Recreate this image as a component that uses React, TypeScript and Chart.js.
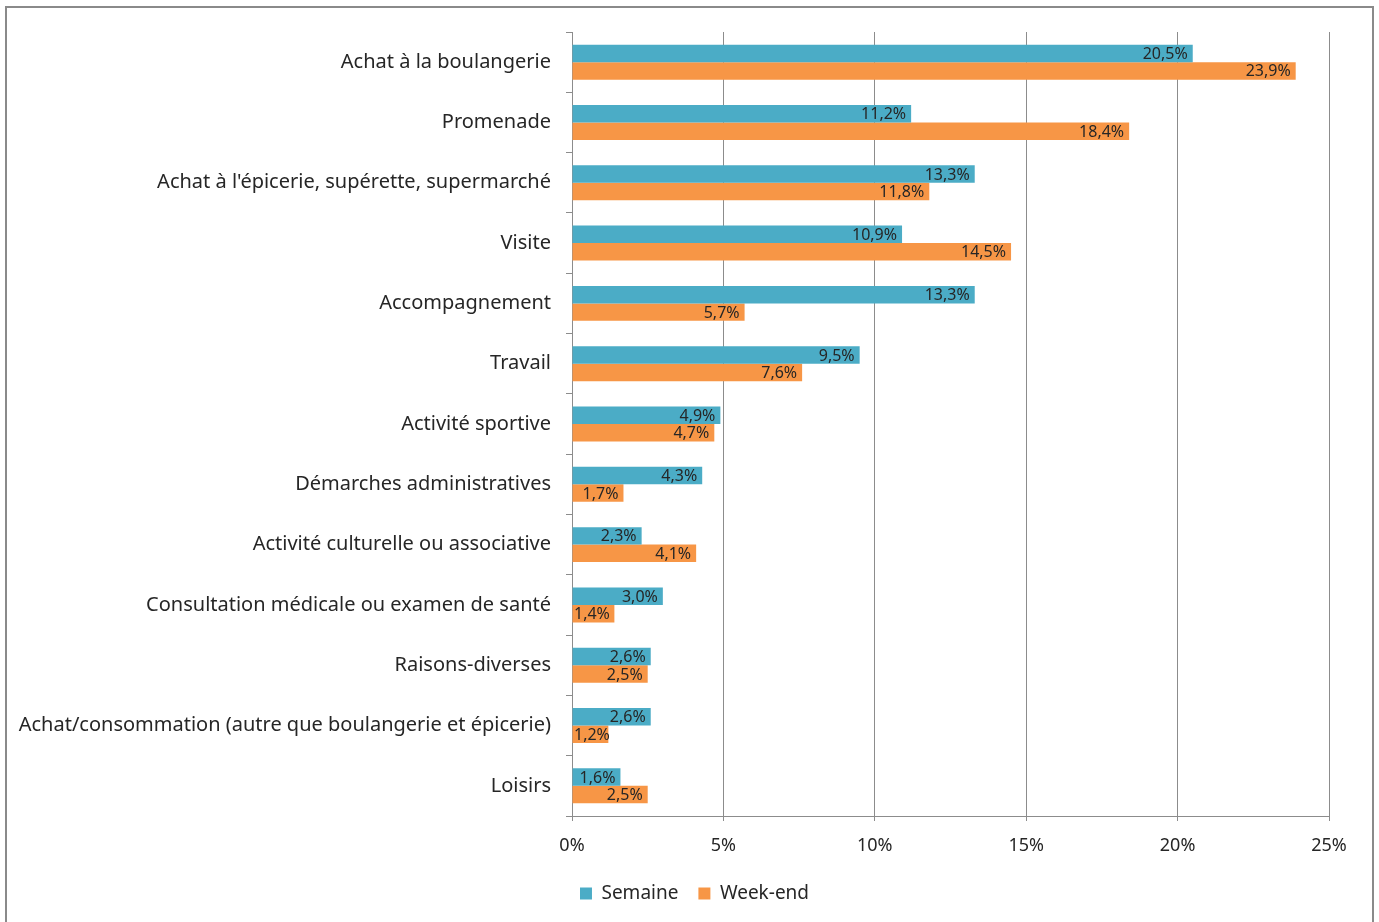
import React, { useEffect, useRef } from "react";
import { Chart, registerables } from "chart.js";

Chart.register(...registerables);

const categories = [
  "Achat à la boulangerie",
  "Promenade",
  "Achat à l'épicerie, supérette, supermarché",
  "Visite",
  "Accompagnement",
  "Travail",
  "Activité sportive",
  "Démarches administratives",
  "Activité culturelle ou associative",
  "Consultation médicale ou examen de santé",
  "Raisons-diverses",
  "Achat/consommation (autre que boulangerie et épicerie)",
  "Loisirs",
];

const semaine = [20.5, 11.2, 13.3, 10.9, 13.3, 9.5, 4.9, 4.3, 2.3, 3.0, 2.6, 2.6, 1.6];
const weekend = [23.9, 18.4, 11.8, 14.5, 5.7, 7.6, 4.7, 1.7, 4.1, 1.4, 2.5, 1.2, 2.5];

const xTicks = [0, 5, 10, 15, 20, 25];

const FONT = "'Noto Sans', 'Open Sans', sans-serif";
const TEXT = "#262626";
const GRID = "#8c8c8c";

const fmt = (v: number) => v.toFixed(1).replace(".", ",") + "%";

const valueLabels = {
  id: "valueLabels",
  afterDatasetsDraw(chart: any) {
    const ctx = chart.ctx;
    const left = chart.chartArea.left;
    ctx.save();
    ctx.font = `16px ${FONT}`;
    ctx.fillStyle = TEXT;
    ctx.textBaseline = "middle";
    ctx.textAlign = "left";
    chart.data.datasets.forEach((ds: any, di: number) => {
      const meta = chart.getDatasetMeta(di);
      meta.data.forEach((el: any, i: number) => {
        const txt = fmt(ds.data[i]);
        const w = ctx.measureText(txt).width;
        let x = el.x - 5 - w;
        if (x < left + 2) x = left + 2;
        ctx.fillText(txt, x, el.y + 1);
      });
    });
    ctx.restore();
  },
};

export default function App() {
  const ref = useRef<HTMLCanvasElement | null>(null);

  useEffect(() => {
    if (!ref.current) return;
    const chart = new Chart(ref.current, {
      type: "bar",
      data: {
        labels: categories,
        datasets: [
          {
            label: "Semaine",
            data: semaine,
            backgroundColor: "#4BACC6",
            categoryPercentage: 0.58,
            barPercentage: 1,
            yAxisID: "y",
          },
          {
            label: "Week-end",
            data: weekend,
            backgroundColor: "#F79646",
            categoryPercentage: 0.58,
            barPercentage: 1,
            yAxisID: "y",
          },
        ],
      },
      options: {
        indexAxis: "y",
        responsive: false,
        animation: false,
        layout: { padding: { left: 10, right: 0, top: 32, bottom: 9 } },
        plugins: {
          legend: {
            position: "bottom",
            labels: {
              font: { family: FONT, size: 19 },
              color: TEXT,
              boxWidth: 12,
              boxHeight: 12,
              padding: 20,
            },
          },
          tooltip: { enabled: false },
        },
        scales: {
          x: {
            min: 0,
            max: 25,
            afterBuildTicks(scale: any) {
              scale.ticks = xTicks.map((v) => ({ value: v }));
            },
            afterFit(scale: any) {
              scale.height = 48;
            },
            ticks: {
              font: { family: FONT, size: 18 },
              color: TEXT,
              padding: 14,
              callback: (v: any) => v + "%",
            },
            grid: { color: GRID, tickLength: 5, drawTicks: true },
            border: { display: true, color: GRID },
          },
          y: {
            afterFit(scale: any) {
              scale.width = 562;
            },
            ticks: {
              font: { family: FONT, size: 20 },
              color: TEXT,
              padding: 15,
            },
            grid: {
              offset: true,
              drawOnChartArea: false,
              drawTicks: true,
              tickLength: 6,
              color: GRID,
            },
            border: { display: true, color: GRID },
          },
          yRight: {
            type: "category",
            position: "right",
            labels: categories,
            afterFit(scale: any) {
              scale.width = 50;
            },
            ticks: { display: false },
            grid: { display: false },
            border: { display: false },
          },
        },
      },
      plugins: [valueLabels],
    } as any);
    return () => chart.destroy();
  }, []);

  return (
    <div
      style={{
        position: "absolute",
        left: 0,
        top: 0,
        width: 1379,
        height: 922,
        overflow: "hidden",
        background: "#fff",
      }}
    >
      <canvas ref={ref} width={1379} height={922} style={{ display: "block" }} />
      <div
        style={{
          position: "absolute",
          left: 5,
          top: 6,
          width: 1369,
          height: 940,
          border: "2px solid #8a8a8a",
          boxSizing: "border-box",
          pointerEvents: "none",
        }}
      />
    </div>
  );
}
